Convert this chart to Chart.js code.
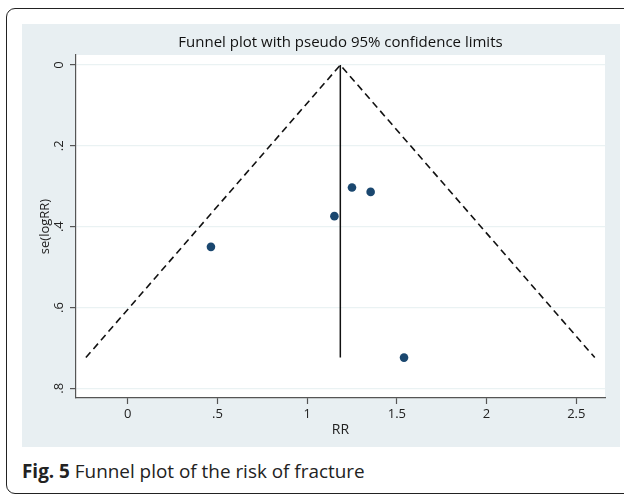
<!DOCTYPE html>
<html>
<head>
<meta charset="utf-8">
<script src="https://cdn.jsdelivr.net/npm/chart.js@4"></script>
<style>
  html, body { margin: 0; padding: 0; background: #fff; width: 624px; height: 494px; overflow: hidden; font-family: "Open Sans", sans-serif; }
  #frame { position: absolute; left: 6px; top: 8px; width: 640px; height: 486px; border: 1.6px solid #222; border-radius: 9px; box-sizing: border-box; }
  #panel { position: absolute; left: 22px; top: 24px; width: 598px; height: 423px; background: #e8eff2; }
  #panel canvas { display: block; }
  #caption { position: absolute; left: 22px; top: 458.7px; font-size: 18.9px; line-height: 24px; color: #222; white-space: nowrap; }
  #caption b { font-weight: 700; }
</style>
</head>
<body>
<div id="frame"></div>
<div id="panel"><canvas id="chart" width="598" height="423"></canvas></div>
<div id="caption"><b>Fig. 5</b> Funnel plot of the risk of fracture</div>
<script>
// Individual studies: risk ratio and standard error of log RR
const studyRR = [0.464, 1.152, 1.250, 1.354, 1.540];
const studySE = [0.450, 0.374, 0.303, 0.314, 0.724];

// Pooled estimate and pseudo 95% confidence limits (lower-left, apex, lower-right)
const pooledRR = 1.185;
const funnelRR = [-0.233, 1.185, 2.603];
const funnelSE = [0.724, 0, 0.724];

// Axis ticks
const xTickValues = [0, 0.5, 1, 1.5, 2, 2.5];
const xTickLabels = ['0', '.5', '1', '1.5', '2', '2.5'];
const yTickValues = [0, 0.2, 0.4, 0.6, 0.8];
const yTickLabels = ['0', '.2', '.4', '.6', '.8'];

const FONT = 'Open Sans';
const AXIS = '#555';

const plotBackground = {
  id: 'plotBackground',
  beforeDraw(chart) {
    const { ctx, chartArea: a } = chart;
    ctx.save();
    ctx.fillStyle = '#ffffff';
    ctx.fillRect(a.left, a.top, a.right - a.left, a.bottom - a.top);
    ctx.restore();
  }
};

new Chart(document.getElementById('chart'), {
  type: 'scatter',
  data: {
    datasets: [
      {
        label: 'Pseudo 95% CI',
        data: funnelRR.map((x, i) => ({ x, y: funnelSE[i] })),
        showLine: true,
        borderColor: '#111',
        borderWidth: 1.6,
        borderDash: [7, 4.5],
        pointRadius: 0,
        tension: 0,
        order: 2
      },
      {
        label: 'Pooled',
        data: [{ x: pooledRR, y: funnelSE[1] }, { x: pooledRR, y: funnelSE[0] }],
        showLine: true,
        borderColor: '#111',
        borderWidth: 1.5,
        pointRadius: 0,
        order: 1
      },
      {
        label: 'Studies',
        data: studyRR.map((x, i) => ({ x, y: studySE[i] })),
        pointRadius: 4.3,
        pointBackgroundColor: '#1a476f',
        pointBorderWidth: 0,
        order: 0
      }
    ]
  },
  options: {
    responsive: false,
    animation: false,
    events: [],
    layout: { padding: { top: 0, left: 15.8, right: 15, bottom: 8.6 } },
    plugins: {
      legend: { display: false },
      tooltip: { enabled: false },
      title: {
        display: true,
        text: 'Funnel plot with pseudo 95% confidence limits',
        fullSize: false,
        color: '#111',
        font: { family: FONT, size: 15, weight: 'normal', lineHeight: 1.2 },
        padding: { top: 9.4, bottom: 3.6 }
      }
    },
    scales: {
      x: {
        type: 'linear',
        min: -0.288,
        max: 2.66,
        afterBuildTicks: s => { s.ticks = xTickValues.map(v => ({ value: v })); },
        afterFit: s => { s.height = 40.4; },
        ticks: {
          autoSkip: false,
          maxRotation: 0,
          padding: 2,
          color: '#222',
          font: { family: FONT, size: 13, lineHeight: 1.2 },
          callback: (v, i) => xTickLabels[i]
        },
        grid: { drawOnChartArea: false, drawTicks: true, tickLength: 6, tickColor: AXIS, tickWidth: 1.2 },
        border: { color: AXIS, width: 1.2 },
        title: {
          display: true,
          text: 'RR',
          color: '#222',
          font: { family: FONT, size: 14, lineHeight: 1.2 },
          padding: { top: 0, bottom: 0 }
        }
      },
      y: {
        type: 'linear',
        reverse: true,
        min: -0.0248,
        max: 0.824,
        afterBuildTicks: s => { s.ticks = yTickValues.map(v => ({ value: v })); },
        afterFit: s => { s.width = 38.2; },
        ticks: {
          autoSkip: false,
          minRotation: 90,
          maxRotation: 90,
          crossAlign: 'center',
          padding: 5.5,
          color: '#222',
          font: { family: FONT, size: 13, lineHeight: 1.2 },
          callback: (v, i) => yTickLabels[i]
        },
        grid: { color: '#eaf2f3', lineWidth: 1.2, drawTicks: true, tickLength: 6, tickColor: AXIS, tickWidth: 1.2 },
        border: { color: AXIS, width: 1.2 },
        title: {
          display: true,
          text: 'se(logRR)',
          color: '#222',
          font: { family: FONT, size: 13, lineHeight: 1.2 },
          padding: { top: 0, bottom: 0 }
        }
      }
    }
  },
  plugins: [plotBackground]
});
</script>
</body>
</html>
